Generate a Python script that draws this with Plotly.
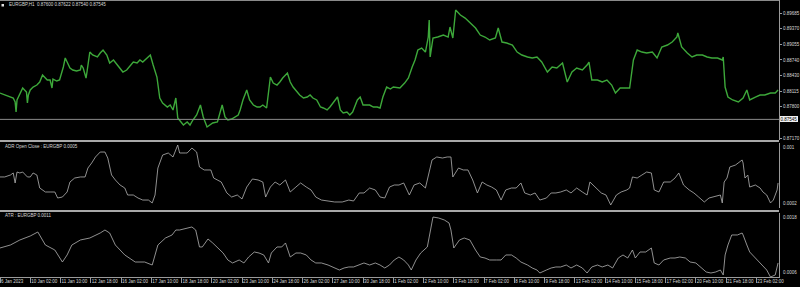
import plotly.graph_objects as go

# ---------------- data (bar index = hourly bars since 6 Jan 2023 18:00, weekends skipped) -------------
PRICE_BARS = [0, 5, 11, 14, 16, 17, 18, 21, 24, 28, 29, 30, 32, 35, 39, 42, 45, 50, 53, 55, 56, 60, 63, 67, 69, 71,
              74, 77, 81, 85, 86, 88, 91, 92, 95, 98, 103, 106, 109, 113, 116, 120, 124, 127, 130, 134, 138, 141,
              145, 148, 151, 156, 159, 162, 166, 169, 172, 177, 180, 183, 186, 188, 190, 194, 198, 201, 204, 208,
              212, 215, 219, 222, 225, 230, 233, 235, 238, 241, 245, 249, 252, 254, 257, 261, 264, 268, 272, 275,
              278, 282, 286, 289, 293, 296, 299, 304, 307, 310, 314, 317, 321, 325, 328, 331, 335, 339, 342, 346,
              349, 352, 357, 360, 363, 367, 370, 373, 378, 381, 384, 388, 391, 395, 399, 402, 405, 409, 413, 416,
              420, 423, 428, 432, 436, 439, 442, 446, 450, 453, 454, 455, 458, 463, 469, 474, 476, 479, 482, 487,
              492, 497, 503, 508, 513, 518, 524, 527, 531, 536, 542, 547, 552, 558, 563, 568, 573, 579, 584, 589,
              595, 600, 605, 610, 616, 621, 623, 626, 632, 637, 642, 647, 651, 656, 661, 666, 670, 674, 679, 684,
              690, 695, 700, 706, 711, 716, 717, 721, 727, 732, 737, 743, 748, 753, 759, 764, 765, 767, 770, 775,
              781, 786, 790, 793, 799, 804, 809, 815, 820, 823]
PRICE = [0.88075, 0.88035, 0.87995, 0.87975, 0.87894, 0.87693, 0.87935, 0.88075, 0.88176, 0.88095, 0.87874,
         0.88035, 0.88136, 0.88196, 0.88236, 0.88297, 0.88438, 0.88337, 0.88337, 0.88176, 0.88357, 0.88317,
         0.88337, 0.88599, 0.88780, 0.88699, 0.88579, 0.88538, 0.88518, 0.88538, 0.88639, 0.88579, 0.88377,
         0.88498, 0.88900, 0.88840, 0.88800, 0.88880, 0.88941, 0.88840, 0.88679, 0.88740, 0.88639, 0.88579,
         0.88498, 0.88538, 0.88639, 0.88699, 0.88679, 0.88740, 0.88699, 0.88780, 0.88840, 0.88639, 0.88397,
         0.87975, 0.87874, 0.87794, 0.87834, 0.87734, 0.87975, 0.87573, 0.87532, 0.87432, 0.87492, 0.87432,
         0.87532, 0.87633, 0.87834, 0.87593, 0.87392, 0.87432, 0.87472, 0.87492, 0.87693, 0.87834, 0.87593,
         0.87532, 0.87553, 0.87593, 0.87633, 0.87734, 0.87935, 0.88136, 0.87935, 0.87834, 0.87794, 0.87794,
         0.87834, 0.87774, 0.88397, 0.88276, 0.88236, 0.88297, 0.88377, 0.88478, 0.88297, 0.88196, 0.88095,
         0.88035, 0.87975, 0.87995, 0.88035, 0.87975, 0.87935, 0.87794, 0.87774, 0.87734, 0.87794, 0.87874,
         0.87995, 0.87734, 0.87673, 0.87693, 0.87633, 0.87693, 0.87935, 0.87995, 0.87834, 0.87834, 0.87834,
         0.87794, 0.87794, 0.87774, 0.87995, 0.88196, 0.88156, 0.88196, 0.88176, 0.88176, 0.88276, 0.88377,
         0.88599, 0.88740, 0.88941, 0.88981, 0.88900, 0.89202, 0.89544, 0.88800, 0.89182, 0.89202, 0.89242,
         0.89202, 0.89403, 0.89182, 0.89745, 0.89645, 0.89584, 0.89484, 0.89383, 0.89242, 0.89202, 0.89142,
         0.89182, 0.89383, 0.89101, 0.89081, 0.89041, 0.88900, 0.88840, 0.88800, 0.88780, 0.88800, 0.88699,
         0.88498, 0.88599, 0.88579, 0.88679, 0.88297, 0.88498, 0.88579, 0.88538, 0.88639, 0.88699, 0.88337,
         0.88337, 0.88297, 0.88337, 0.88236, 0.88075, 0.88176, 0.88176, 0.88176, 0.88740, 0.88941, 0.88900,
         0.88880, 0.88900, 0.88780, 0.89001, 0.89041, 0.89101, 0.89202, 0.89283, 0.89001, 0.88880, 0.88800,
         0.88840, 0.88840, 0.88800, 0.88780, 0.88780, 0.88740, 0.88800, 0.88196, 0.87995, 0.87935, 0.87894,
         0.87975, 0.88136, 0.87935, 0.87995, 0.88035, 0.88035, 0.88075, 0.88075, 0.88136]

ADR_BARS = [0, 5, 11, 14, 16, 18, 21, 24, 29, 32, 35, 39, 42, 48, 53, 58, 61, 66, 71, 74, 79, 85, 90, 93, 97, 101,
            106, 111, 114, 118, 122, 127, 132, 135, 141, 146, 151, 157, 161, 164, 167, 172, 178, 183, 188, 190,
            196, 198, 201, 203, 208, 211, 216, 223, 226, 234, 240, 245, 251, 256, 261, 267, 273, 278, 281, 286,
            291, 296, 302, 307, 313, 318, 324, 329, 334, 340, 347, 354, 362, 369, 374, 380, 385, 391, 397, 402,
            407, 412, 417, 422, 427, 433, 438, 444, 450, 453, 457, 462, 468, 473, 477, 479, 485, 490, 495, 500,
            505, 510, 515, 520, 525, 530, 535, 541, 546, 551, 555, 561, 566, 571, 578, 583, 588, 593, 599, 604,
            610, 616, 621, 624, 631, 636, 641, 646, 652, 657, 663, 666, 669, 674, 679, 684, 689, 692, 697, 702,
            709, 714, 718, 723, 729, 734, 739, 745, 750, 755, 762, 764, 766, 769, 772, 778, 781, 785, 786, 788,
            791, 793, 799, 804, 807, 811, 815, 818, 822, 823]
ADR = [0.000582, 0.000582, 0.000606, 0.000631, 0.000508, 0.000643, 0.000631, 0.000643, 0.000582, 0.000582,
       0.000631, 0.000606, 0.000446, 0.000397, 0.000397, 0.000397, 0.000323, 0.000335, 0.000397, 0.000520,
       0.000569, 0.000582, 0.000582, 0.000692, 0.000754, 0.000828, 0.000889, 0.000889, 0.000815, 0.000606,
       0.000545, 0.000483, 0.000446, 0.000360, 0.000360, 0.000323, 0.000298, 0.000298, 0.000262, 0.000360,
       0.000692, 0.000852, 0.000877, 0.000828, 0.000975, 0.000877, 0.000877, 0.000877, 0.000914, 0.000938,
       0.000889, 0.000705, 0.000668, 0.000668, 0.000569, 0.000520, 0.000385, 0.000335, 0.000360, 0.000311,
       0.000458, 0.000557, 0.000545, 0.000520, 0.000335, 0.000458, 0.000520, 0.000483, 0.000545, 0.000397,
       0.000458, 0.000508, 0.000458, 0.000422, 0.000335, 0.000298, 0.000286, 0.000274, 0.000274, 0.000298,
       0.000286, 0.000385, 0.000385, 0.000446, 0.000422, 0.000335, 0.000323, 0.000458, 0.000483, 0.000483,
       0.000508, 0.000360, 0.000483, 0.000508, 0.000446, 0.000582, 0.000791, 0.000828, 0.000815, 0.000828,
       0.000828, 0.000582, 0.000692, 0.000668, 0.000668, 0.000545, 0.000385, 0.000520, 0.000483, 0.000458,
       0.000422, 0.000298, 0.000422, 0.000446, 0.000446, 0.000508, 0.000385, 0.000360, 0.000385, 0.000298,
       0.000323, 0.000385, 0.000385, 0.000397, 0.000422, 0.000385, 0.000446, 0.000397, 0.000360, 0.000520,
       0.000446, 0.000385, 0.000360, 0.000237, 0.000360, 0.000397, 0.000422, 0.000446, 0.000582, 0.000569,
       0.000606, 0.000643, 0.000631, 0.000422, 0.000397, 0.000520, 0.000520, 0.000569, 0.000631, 0.000483,
       0.000422, 0.000385, 0.000335, 0.000274, 0.000323, 0.000335, 0.000360, 0.000262, 0.000520, 0.000569,
       0.000705, 0.000729, 0.000754, 0.000791, 0.000754, 0.000569, 0.000606, 0.000458, 0.000483, 0.000446,
       0.000397, 0.000360, 0.000262, 0.000298, 0.000422, 0.000508]

ATR_BARS = [0, 11, 21, 32, 40, 48, 58, 66, 71, 76, 85, 95, 106, 111, 116, 122, 132, 143, 153, 161, 167, 175,
            182, 186, 190, 198, 203, 207, 211, 214, 220, 225, 231, 236, 241, 246, 253, 258, 263, 269, 274, 279,
            284, 287, 293, 298, 302, 307, 313, 318, 324, 329, 334, 340, 347, 352, 359, 364, 369, 374, 380, 385,
            391, 397, 402, 407, 412, 417, 422, 427, 432, 435, 440, 445, 452, 455, 458, 464, 470, 475, 477, 480,
            486, 491, 497, 503, 508, 513, 518, 525, 530, 535, 541, 546, 551, 558, 563, 568, 571, 578, 583, 588,
            593, 599, 604, 610, 616, 621, 626, 632, 637, 643, 648, 654, 659, 664, 669, 672, 677, 683, 689, 692,
            697, 702, 709, 714, 719, 725, 730, 736, 742, 747, 752, 757, 762, 765, 767, 770, 774, 780, 785, 786,
            790, 793, 799, 804, 807, 811, 815, 820, 823]
ATR = [0.001144, 0.001200, 0.001294, 0.001369, 0.001444, 0.001200, 0.001106, 0.000881, 0.001013, 0.001200,
       0.001294, 0.001331, 0.001425, 0.001481, 0.001425, 0.001200, 0.001013, 0.000881, 0.000881, 0.000825,
       0.001200, 0.001331, 0.001388, 0.001481, 0.001481, 0.001519, 0.001538, 0.001481, 0.001163, 0.001163,
       0.001313, 0.001238, 0.001144, 0.001050, 0.000919, 0.000863, 0.000919, 0.000863, 0.000975, 0.001069,
       0.001050, 0.001013, 0.000863, 0.001050, 0.001163, 0.001163, 0.001238, 0.000975, 0.001050, 0.001050,
       0.001013, 0.000919, 0.000863, 0.000863, 0.000825, 0.000788, 0.000731, 0.000769, 0.000788, 0.000788,
       0.000825, 0.000863, 0.000825, 0.000863, 0.000825, 0.000769, 0.000825, 0.000919, 0.000975, 0.000919,
       0.000825, 0.000731, 0.000919, 0.001050, 0.001163, 0.001481, 0.001725, 0.001706, 0.001669, 0.001613,
       0.001481, 0.001144, 0.001294, 0.001331, 0.001294, 0.001106, 0.000975, 0.000956, 0.000919, 0.000919,
       0.000919, 0.001013, 0.001013, 0.000956, 0.000881, 0.000825, 0.000769, 0.000731, 0.000675, 0.000731,
       0.000769, 0.000788, 0.000788, 0.000825, 0.000769, 0.000825, 0.000769, 0.000675, 0.000788, 0.000825,
       0.000788, 0.000825, 0.000769, 0.000956, 0.001013, 0.000956, 0.001106, 0.000956, 0.001069, 0.001069,
       0.001144, 0.000863, 0.000825, 0.000919, 0.000956, 0.000956, 0.000975, 0.000956, 0.000881, 0.000863,
       0.000769, 0.000694, 0.000675, 0.000694, 0.000731, 0.000638, 0.001013, 0.001200, 0.001388, 0.001388,
       0.001425, 0.001388, 0.001200, 0.001069, 0.000956, 0.000863, 0.000788, 0.000731, 0.000600, 0.000638,
       0.000863]

TICK_BARS = [0, 32, 64, 96, 128, 160, 192, 224, 256, 288, 320, 352, 384, 416, 448, 480, 512, 544, 576, 608,
             640, 672, 704, 736, 768, 800]
TICK_LABELS = ["6 Jan 2023", "10 Jan 02:00", "11 Jan 10:00", "12 Jan 18:00", "16 Jan 02:00", "17 Jan 10:00",
               "18 Jan 18:00", "20 Jan 02:00", "23 Jan 10:00", "24 Jan 18:00", "26 Jan 02:00", "27 Jan 10:00",
               "30 Jan 18:00", "1 Feb 02:00", "2 Feb 10:00", "3 Feb 18:00", "7 Feb 02:00", "8 Feb 10:00",
               "9 Feb 18:00", "13 Feb 02:00", "14 Feb 10:00", "15 Feb 18:00", "17 Feb 02:00", "20 Feb 10:00",
               "21 Feb 18:00", "23 Feb 02:00"]
PRICE_TICKS = [0.89685, 0.89370, 0.89055, 0.88740, 0.88430, 0.88115, 0.87800, 0.87170]
PRICE_TICK_LABELS = ["0.89685", "0.89370", "0.89055", "0.88740", "0.88430", "0.88115", "0.87800", "0.87170"]
BID = 0.87545
HEADER = "EURGBP,H1  0.87600 0.87622 0.87540 0.87545"
ADR_TITLE = "ADR Open Close : EURGBP 0.0005"
ATR_TITLE = "ATR : EURGBP 0.0011"
ADR_RANGE = [0.0002, 0.001]
ATR_RANGE = [0.0006, 0.0018]

# ---------------- layout constants ----------------
W, H = 800, 287
XR = 779 / W
FONT = "Liberation Sans, Arial, sans-serif"
FS = 4.5
TXT = "#d8d8d8"
GRID = "#9a9a9a"


def py(p):
    return 1 - p / H


fig = go.Figure()
fig.add_trace(go.Scatter(x=PRICE_BARS, y=PRICE, mode="lines", line=dict(color="#3da83a", width=1.4),
                         xaxis="x", yaxis="y", hoverinfo="skip"))
fig.add_trace(go.Scatter(x=ADR_BARS, y=ADR, mode="lines", line=dict(color="#b4b4b4", width=0.8),
                         xaxis="x", yaxis="y2", hoverinfo="skip"))
fig.add_trace(go.Scatter(x=ATR_BARS, y=ATR, mode="lines", line=dict(color="#b4b4b4", width=0.8),
                         xaxis="x", yaxis="y3", hoverinfo="skip"))

ax_common = dict(showgrid=False, zeroline=False, fixedrange=True, automargin=False)
yax_common = dict(ax_common, side="right", anchor="x", showline=True, linecolor=GRID, linewidth=1,
                  tickfont=dict(size=FS, color=TXT, family=FONT))

fig.update_layout(
    width=W, height=H, margin=dict(l=0, r=0, t=0, b=0, autoexpand=False),
    paper_bgcolor="black", plot_bgcolor="black", showlegend=False,
    xaxis=dict(ax_common, domain=[0, XR], range=[0, 824], anchor="y3",
               tickmode="array", tickvals=TICK_BARS, ticktext=TICK_LABELS, tickangle=0,
               ticks="outside", ticklen=5, tickcolor=GRID, ticklabelposition="outside right",
               tickfont=dict(size=FS, color=TXT, family=FONT), showline=True, linecolor=GRID, linewidth=1),
    yaxis=dict(yax_common, domain=[py(140), 1], range=[0.87130, 0.89947],
               tickmode="array", tickvals=PRICE_TICKS, ticktext=PRICE_TICK_LABELS,
               ticks="outside", ticklen=2, tickcolor=GRID, ticklabelstandoff=0),
    yaxis2=dict(yax_common, domain=[py(208), py(143)], range=ADR_RANGE, showticklabels=False,
                ticks=""),
    yaxis3=dict(yax_common, domain=[py(277), py(213)], range=ATR_RANGE, showticklabels=False,
                ticks=""),
)

shapes = []
# bid line
shapes.append(dict(type="line", xref="paper", yref="y", x0=0, x1=XR, y0=BID, y1=BID,
                   line=dict(color="#8a8a8a", width=1)))
# separators between windows
for top in (140, 210):
    shapes.append(dict(type="rect", xref="paper", yref="paper", x0=0, x1=XR, y0=py(top + 2), y1=py(top),
                       fillcolor="#a8a8a8", line=dict(width=0)))
# top border
shapes.append(dict(type="line", xref="paper", yref="paper", x0=0, x1=XR, y0=py(0.5), y1=py(0.5),
                   line=dict(color="#8a8a8a", width=1)))
# header icon
shapes.append(dict(type="rect", xref="paper", yref="paper", x0=1.5 / W, x1=4 / W, y0=py(6.5), y1=py(4),
                   fillcolor="#e0e0e0", line=dict(width=0)))
fig.update_layout(shapes=shapes)

ann = []
ann.append(dict(text=HEADER, xref="paper", yref="paper", x=7 / W, y=py(5), xanchor="left", yanchor="middle",
                showarrow=False, font=dict(size=FS, color=TXT, family=FONT)))
ann.append(dict(text=ADR_TITLE, xref="paper", yref="paper", x=3 / W, y=py(146), xanchor="left",
                yanchor="middle", showarrow=False, font=dict(size=FS, color=TXT, family=FONT)))
ann.append(dict(text=ATR_TITLE, xref="paper", yref="paper", x=3 / W, y=py(215), xanchor="left",
                yanchor="middle", showarrow=False, font=dict(size=FS, color=TXT, family=FONT)))
# bid price box
ann.append(dict(text="0.87545", xref="paper", yref="y", x=780 / W, y=BID, xanchor="left", yanchor="middle",
                showarrow=False, bgcolor="#f0f0f0", bordercolor="#ffffff", borderwidth=0, borderpad=0.5,
                font=dict(size=FS, color="black", family=FONT)))
# subwindow scale labels (max / min at edges)
for lab, yv, anchor, ref in (("0.001", ADR_RANGE[1], "top", "y2"), ("0.0002", ADR_RANGE[0], "bottom", "y2"),
                             ("0.0018", ATR_RANGE[1], "top", "y3"), ("0.0006", ATR_RANGE[0], "bottom", "y3")):
    ann.append(dict(text=lab, xref="paper", yref=ref, x=781 / W, y=yv, xanchor="left", yanchor=anchor,
                    showarrow=False, font=dict(size=FS, color=TXT, family=FONT)))
fig.update_layout(annotations=ann)

fig.write_html("out.html", config={"displayModeBar": False})
